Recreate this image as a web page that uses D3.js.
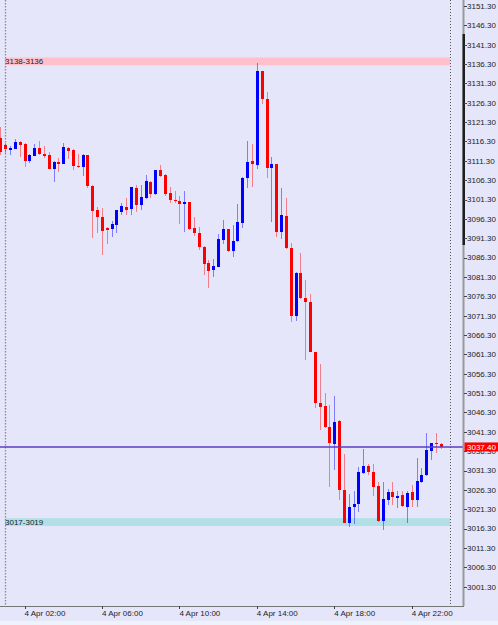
<!DOCTYPE html>
<html>
<head>
<meta charset="utf-8">
<script src="https://cdn.jsdelivr.net/npm/d3@7/dist/d3.min.js"></script>
<style>
  body { margin: 0; background: #E6E6FA; }
  svg { display: block; }
  text { font-family: "Liberation Sans", Arial, sans-serif; font-size: 8px; fill: #222; }
</style>
</head>
<body>
<script>
// 15 minute bars, 4 Apr, first bar 00:45
var firstBar = [0, 45];
var barMinutes = 15;

var opens = [3117.2,3115.3,3114.3,3114.4,3116.1,3115.6,3111.3,3112.6,3114.6,3113.0,
  3112.7,3109.2,3111.0,3110.6,3114.6,3114.2,3110.0,3109.8,3112.8,3104.8,
  3098.5,3096.9,3093.9,3093.6,3094.8,3098.2,3099.4,3098.8,3104.3,3099.9,
  3101.8,3105.9,3102.7,3108.9,3107.6,3102.9,3101.2,3100.9,3100.3,3100.6,
  3093.9,3092.7,3089.1,3084.8,3083.1,3084.0,3090.9,3093.8,3088.0,3090.7,
  3095.2,3106.8,3111.2,3110.3,3134.5,3127.4,3109.5,3110.4,3093.0,3097.1,
  3088.7,3071.1,3082.4,3075.8,3074.9,3061.9,3048.7,3047.9,3042.5,3038.2,
  3044.0,3026.3,3017.8,3021.9,3022.7,3030.6,3032.6,3031.0,3027.3,3018.4,
  3023.7,3025.8,3024.2,3025.0,3022.0,3025.8,3023.7,3028.3,3030.2,3036.4,
  3038.5,3038.1];
var highs = [3120.1,3115.9,3115.1,3116.9,3116.3,3115.8,3113.0,3115.6,3116.4,3115.2,
  3113.5,3111.2,3112.0,3115.8,3114.8,3114.4,3113.0,3113.0,3112.9,3105.1,
  3099.3,3099.0,3094.3,3095.8,3098.6,3100.3,3101.6,3104.5,3105.1,3105.1,
  3107.7,3106.1,3108.9,3110.1,3107.9,3104.5,3103.6,3102.3,3103.6,3100.6,
  3096.9,3094.3,3089.2,3085.7,3085.9,3092.4,3096.0,3093.8,3094.8,3100.2,
  3107.1,3116.3,3115.7,3136.5,3134.6,3129.2,3112.4,3110.5,3104.2,3101.6,
  3090.2,3082.7,3087.4,3080.5,3076.9,3062.0,3058.8,3051.3,3048.2,3050.6,
  3044.4,3035.7,3025.3,3026.1,3032.3,3036.8,3032.9,3032.9,3028.4,3028.4,
  3026.5,3028.4,3026.1,3026.1,3026.1,3027.6,3034.6,3031.9,3040.9,3038.5,
  3040.9,3038.5];
var lows = [3112.8,3113.3,3112.8,3114.3,3112.4,3109.8,3110.7,3112.6,3112.8,3112.0,
  3109.1,3105.9,3108.5,3110.6,3111.7,3108.9,3109.4,3107.4,3104.4,3091.3,
  3092.7,3087.0,3089.8,3091.7,3092.6,3097.3,3097.3,3097.3,3098.0,3098.6,
  3101.5,3101.6,3102.5,3107.1,3102.3,3100.5,3100.3,3095.0,3093.0,3093.4,
  3092.0,3088.3,3081.8,3078.4,3081.4,3083.8,3089.8,3087.8,3086.5,3090.4,
  3093.9,3104.4,3104.6,3109.1,3126.1,3106.8,3095.6,3091.7,3091.1,3088.5,
  3069.8,3070.0,3075.6,3059.9,3061.8,3047.4,3041.8,3042.2,3027.1,3031.5,
  3023.7,3017.7,3016.8,3017.5,3020.7,3030.4,3030.2,3024.6,3018.1,3016.0,
  3022.4,3022.4,3021.6,3021.8,3017.8,3022.0,3021.8,3028.2,3030.0,3033.9,
  3035.9,3036.8];
var closes = [3113.5,3114.4,3114.6,3116.1,3115.5,3111.3,3112.8,3114.6,3113.0,3112.7,
  3109.2,3111.0,3110.7,3114.8,3113.9,3110.0,3109.9,3112.8,3104.8,3098.4,
  3096.9,3093.2,3093.4,3095.0,3098.5,3099.6,3098.6,3104.5,3099.9,3101.9,
  3106.1,3102.7,3108.9,3107.5,3102.7,3101.2,3100.9,3100.1,3100.6,3093.7,
  3092.7,3089.0,3084.7,3082.9,3084.1,3091.0,3093.8,3088.0,3090.7,3095.4,
  3107.0,3111.1,3110.4,3134.5,3127.3,3109.5,3110.4,3092.9,3097.3,3088.7,
  3071.1,3082.4,3075.8,3074.8,3061.9,3048.8,3047.8,3042.6,3038.4,3043.9,
  3026.3,3017.8,3022.0,3022.6,3030.8,3032.6,3030.8,3027.1,3018.4,3023.9,
  3025.8,3024.4,3024.6,3022.2,3025.6,3023.7,3028.6,3030.2,3036.6,3038.5,
  3038.1,3037.4];

var priceTicks = [3151.3,3146.3,3141.3,3136.3,3131.3,3126.3,3121.3,3116.3,3111.3,3106.3,
  3101.3,3096.3,3091.3,3086.3,3081.3,3076.3,3071.3,3066.3,3061.3,3056.3,
  3051.3,3046.3,3041.3,3036.3,3031.3,3026.3,3021.3,3016.3,3011.3,3006.3,3001.3];
var timeTicks = ["02:00","06:00","10:00","14:00","18:00","22:00"];

var zones = [
  {label: "3138-3136", from: 3136, to: 3138, color: "#FFC0CB"},
  {label: "3017-3019", from: 3017, to: 3019, color: "#B0E0E6"}
];
var lastPrice = 3037.40;

var W = 498, H = 625;
var axisX = 463, axisY = 606;

function at(hh, mm) { return new Date(2025, 3, 4, hh, mm); }
function parseHM(s) { var p = s.split(":"); return at(+p[0], +p[1]); }

var bars = opens.map(function(o, i) {
  return {
    t: new Date(at(firstBar[0], firstBar[1]).getTime() + i * barMinutes * 60000),
    o: o, h: highs[i], l: lows[i], c: closes[i]
  };
});

var x = d3.scaleTime()
  .domain([at(2, 0), at(22, 0)])
  .range([24.5, 411.7]);

var y = d3.scaleLinear()
  .domain([3001.3, 3151.3])
  .range([586.7, 6]);

var svg = d3.select("body").append("svg")
  .attr("width", W)
  .attr("height", H);

svg.append("rect")
  .attr("width", W).attr("height", H)
  .attr("fill", "#E6E6FA");

// zones
svg.selectAll(".zone")
  .data(zones)
  .enter()
  .append("rect")
  .attr("x", 5)
  .attr("width", 450 - 5)
  .attr("y", function(d) { return y(d.to); })
  .attr("height", function(d) { return y(d.from) - y(d.to); })
  .attr("fill", function(d) { return d.color; });

svg.selectAll(".zlabel")
  .data(zones)
  .enter()
  .append("text")
  .attr("x", 5)
  .attr("y", function(d) { return (y(d.from) + y(d.to)) / 2; })
  .attr("dy", "0.35em")
  .text(function(d) { return d.label; });

// dotted separators
svg.append("line")
  .attr("x1", 5.5).attr("x2", 5.5).attr("y1", 0).attr("y2", axisY)
  .attr("stroke", "#8a8a8a").attr("stroke-width", 1.3)
  .attr("stroke-dasharray", "1.5,1.5");
svg.append("line")
  .attr("x1", 450.5).attr("x2", 450.5).attr("y1", 0).attr("y2", axisY)
  .attr("stroke", "#555").attr("stroke-width", 1)
  .attr("stroke-dasharray", "1,2");

// candles
var candle = svg.append("g").attr("shape-rendering", "crispEdges")
  .selectAll("g")
  .data(bars)
  .enter()
  .append("g");

function up(d) { return d.c >= d.o; }

candle.append("line")
  .attr("x1", function(d) { return Math.round(x(d.t)) + 0.5; })
  .attr("x2", function(d) { return Math.round(x(d.t)) + 0.5; })
  .attr("y1", function(d) { return y(d.h); })
  .attr("y2", function(d) { return y(d.l); })
  .attr("stroke", function(d) { return up(d) ? "#0000FF" : "#FF0000"; })
  .attr("stroke-opacity", 0.45);

candle.append("rect")
  .attr("x", function(d) { return Math.round(x(d.t)) - 1; })
  .attr("width", 3)
  .attr("y", function(d) { return y(Math.max(d.o, d.c)); })
  .attr("height", function(d) { return Math.max(1.5, Math.abs(y(d.o) - y(d.c))); })
  .attr("fill", function(d) { return up(d) ? "#0000FF" : "#FF0000"; });

// last price line
svg.append("line")
  .attr("x1", 0).attr("x2", axisX)
  .attr("y1", y(lastPrice)).attr("y2", y(lastPrice))
  .attr("stroke", "#5B3CC4").attr("stroke-width", 1.4);

// price axis
svg.append("rect")
  .attr("x", axisX).attr("y", 0).attr("width", W - axisX).attr("height", axisY)
  .attr("fill", "#E6E6FA");
svg.append("line")
  .attr("x1", axisX + 0.5).attr("x2", axisX + 0.5).attr("y1", 0).attr("y2", axisY)
  .attr("stroke", "#9a9a9a").attr("stroke-width", 2);
svg.append("rect")
  .attr("x", axisX - 0.5).attr("y", 34).attr("width", 2.5).attr("height", 211)
  .attr("fill", "#1e1e1e");

var yAxis = svg.append("g");
yAxis.selectAll("line")
  .data(priceTicks)
  .enter()
  .append("line")
  .attr("x1", axisX + 1).attr("x2", axisX + 4)
  .attr("y1", function(d) { return Math.round(y(d)) + 0.5; })
  .attr("y2", function(d) { return Math.round(y(d)) + 0.5; })
  .attr("stroke", "#444");
yAxis.selectAll("text")
  .data(priceTicks)
  .enter()
  .append("text")
  .attr("x", axisX + 4)
  .attr("y", function(d) { return y(d); })
  .attr("dy", "0.35em")
  .text(function(d) { return d.toFixed(2); });

// current price tag
svg.append("rect")
  .attr("x", axisX + 1.5).attr("y", y(lastPrice) - 4.5)
  .attr("width", W - axisX - 1.5).attr("height", 9)
  .attr("fill", "#FF0000");
svg.append("text")
  .attr("x", axisX + 4).attr("y", y(lastPrice))
  .attr("dy", "0.35em")
  .style("fill", "#fff")
  .text(lastPrice.toFixed(2));

// time axis
svg.append("line")
  .attr("x1", 0).attr("x2", axisX + 1).attr("y1", axisY + 0.5).attr("y2", axisY + 0.5)
  .attr("stroke", "#777");
var xAxis = svg.append("g");
xAxis.selectAll("line")
  .data(timeTicks)
  .enter()
  .append("line")
  .attr("x1", function(d) { return Math.round(x(parseHM(d))) + 0.5; })
  .attr("x2", function(d) { return Math.round(x(parseHM(d))) + 0.5; })
  .attr("y1", axisY).attr("y2", axisY + 3)
  .attr("stroke", "#444");
xAxis.selectAll("text")
  .data(timeTicks)
  .enter()
  .append("text")
  .attr("x", function(d) { return x(parseHM(d)); })
  .attr("y", axisY + 7)
  .attr("dy", "0.35em")
  .text(function(d) { return "4 Apr " + d; });

svg.append("rect")
  .attr("x", 0).attr("y", 621).attr("width", W).attr("height", 4)
  .attr("fill", "#EEF3FB");
</script>
</body>
</html>
